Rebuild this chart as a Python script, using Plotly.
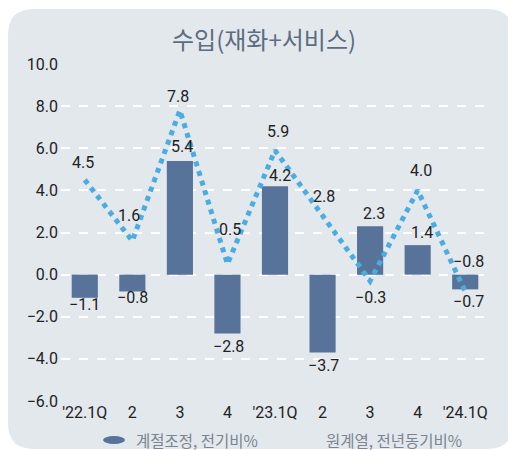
import plotly.graph_objects as go

categories = ["'22.1Q", "2", "3", "4", "'23.1Q", "2", "3", "4", "'24.1Q"]
qoq_sa = [-1.1, -0.8, 5.4, -2.8, 4.2, -3.7, 2.3, 1.4, -0.7]      # 계절조정, 전기비%
yoy_orig = [4.5, 1.6, 7.8, 0.5, 5.9, 2.8, -0.3, 4.0, -0.8]      # 원계열, 전년동기비%
y_ticks = [-6, -4, -2, 0, 2, 4, 6, 8, 10]

xpos = list(range(len(categories)))

# label offsets in pixels (style only)
bar_lbl_dy = [-7, -6, 14, -13, 11, -13, 13, 13, -12]
bar_lbl_dx = [0, 0, 2, 1, 5, 1, 4, 4, 3]
line_lbl_dy = [17, 25, 14, 35, 19, 19, -17, 20, 30]
line_lbl_dx = [-2, -3, -2, 3, 3, 1, 0, 3, 3]

BAR = "#58739a"
LINE = "#4aace0"
PANEL = "#e3e8ed"
TXT = "#222222"
FS = 16

OFF = 8  # page body margin
W, H = 516 - OFF, 450 - OFF
L, R, T, B = 61 - OFF, 516 - 489, 64 - OFF, 450 - 401
pw, ph = W - L - R, H - T - B

def px(x):
    return (x - OFF - L) / pw

def py(y):
    return (H - B - (y - OFF)) / ph

def fmt(v):
    s = f"{abs(v):.1f}"
    return ("\u2212" + s) if v < 0 else s

fig = go.Figure()
fig.add_trace(go.Bar(x=xpos, y=qoq_sa, marker=dict(color=BAR, line=dict(width=0)),
                     width=0.55, showlegend=False))
fig.add_trace(go.Scatter(x=xpos, y=yoy_orig, mode="lines",
                         line=dict(color=LINE, width=5, dash="dot"), showlegend=False))

ann = []
for c, v, dx, dy in zip(xpos, qoq_sa, bar_lbl_dx, bar_lbl_dy):
    ann.append(dict(x=c, y=v, xref="x", yref="y", text=fmt(v), showarrow=False,
                    xshift=dx, yshift=dy, font=dict(size=FS, color=TXT, family="Roboto")))
for c, v, dx, dy in zip(xpos, yoy_orig, line_lbl_dx, line_lbl_dy):
    ann.append(dict(x=c, y=v, xref="x", yref="y", text=fmt(v), showarrow=False,
                    xshift=dx, yshift=dy, font=dict(size=FS, color=TXT, family="Roboto")))

# title
ann.append(dict(x=px(264), y=py(38), xref="paper", yref="paper", text="수입(재화+서비스)",
                xanchor="center", yanchor="middle", showarrow=False,
                font=dict(size=24, color="#5b6d7f", family="Noto Sans CJK KR")))
# legend texts
ann.append(dict(x=px(134), y=py(440), xref="paper", yref="paper", text="계절조정, 전기비%",
                xanchor="left", yanchor="middle", showarrow=False,
                font=dict(size=15.5, color="#7a8591", family="Noto Sans CJK KR")))
ann.append(dict(x=px(324), y=py(440), xref="paper", yref="paper", text="원계열, 전년동기비%",
                xanchor="left", yanchor="middle", showarrow=False,
                font=dict(size=15.5, color="#7a8591", family="Noto Sans CJK KR")))

# rounded background panel
x0, y0, x1, y1, r = 8, 9, 513, 449, 26
path = (f"M {px(x0 + r)},{py(y0)} L {px(x1 - r)},{py(y0)} "
        f"Q {px(x1)},{py(y0)} {px(x1)},{py(y0 + r)} "
        f"L {px(x1)},{py(y1 - r)} Q {px(x1)},{py(y1)} {px(x1 - r)},{py(y1)} "
        f"L {px(x0 + r)},{py(y1)} Q {px(x0)},{py(y1)} {px(x0)},{py(y1 - r)} "
        f"L {px(x0)},{py(y0 + r)} Q {px(x0)},{py(y0)} {px(x0 + r)},{py(y0)} Z")
shapes = [
    dict(type="path", path=path, xref="paper", yref="paper", fillcolor=PANEL,
         line=dict(width=0), layer="below"),
    dict(type="circle", xref="paper", yref="paper", x0=px(103), x1=px(125),
         y0=py(444), y1=py(436), fillcolor=BAR, line=dict(width=0)),
]

fig.update_layout(
    width=W, height=H, autosize=False,
    margin=dict(l=L, r=R, t=T, b=B),
    paper_bgcolor="white", plot_bgcolor="rgba(0,0,0,0)",
    font=dict(family="Roboto", size=FS, color=TXT),
    annotations=ann, shapes=shapes,
    xaxis=dict(range=[-0.5, len(categories) - 0.5], tickvals=xpos, ticktext=categories,
               showgrid=False, zeroline=False, showline=False,
               ticks="", tickfont=dict(size=FS, color=TXT)),
    yaxis=dict(range=[-6, 10], tickvals=y_ticks, tickformat=".1f",
               showgrid=True, gridcolor="white", griddash="dash", gridwidth=2,
               zeroline=False, showline=False, ticks="", ticklabelstandoff=2,
               tickfont=dict(size=FS, color=TXT)),
)

fig.write_html("out.html")
